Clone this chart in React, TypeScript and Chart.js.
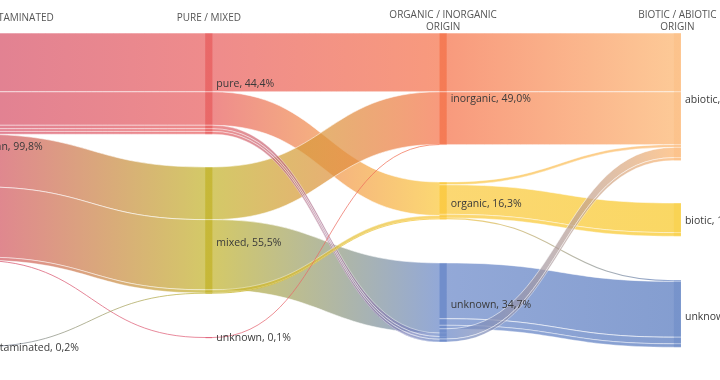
import React, { useEffect, useRef } from "react";
import { Chart, registerables } from "chart.js";
Chart.register(...registerables);

// ---- data ----
const columnTitles: string[][] = [
  ["CONTAMINATED / UNCONTAMINATED"],
  ["PURE / MIXED"],
  ["ORGANIC / INORGANIC", "ORIGIN"],
  ["BIOTIC / ABIOTIC", "ORIGIN"],
];
const nodeNames = ["clean", "contaminated", "pure", "mixed", "unknown", "inorganic", "organic", "unknown", "abiotic", "biotic", "unknown"];
const nodeColumns = [0, 0, 1, 1, 1, 2, 2, 2, 3, 3, 3];
const nodeValues = [99.8, 0.2, 44.4, 55.5, 0.1, 49.0, 16.3, 34.7, 56.0, 14.6, 29.4];

const linkSources = [0, 0, 0, 0, 0, 0, 0, 0, 0, 1,
  2, 2, 3, 3, 2, 2, 2, 3, 3, 4,
  5, 5, 6, 6, 6, 6, 7, 7, 7, 7, 7];
const linkTargets = [2, 2, 2, 2, 2, 3, 3, 3, 4, 3,
  5, 6, 5, 7, 7, 7, 7, 6, 6, 5,
  8, 8, 8, 9, 9, 10, 10, 10, 10, 8, 8];
const linkValues = [25.8, 14.7, 1.5, 1.2, 1.2, 23.1, 30.8, 1.4, 0.1, 0.2,
  25.8, 14.7, 23.1, 30.8, 1.5, 1.2, 1.2, 1.4, 0.2, 0.1,
  25.8, 23.2, 1.2, 13.0, 1.6, 0.5, 24.5, 2.9, 1.5, 4.5, 1.3];

// ---- layout / style ----
const NODE_TOP = [0, 137.6, 0, 58.8, 133.6, 0, 65.4, 100.9, 0, 74.6, 108.5];
const LABEL_DY = [0, 1, 0, 13, 0, 10, 3, 3, 3, 1, 3];
const TITLE_DX = [-10, 0, 0, 0];
const NODE_COLORS = [
  [213, 80, 105], [110, 125, 170], [232, 95, 95], [195, 180, 45], [225, 95, 120],
  [245, 115, 75], [250, 200, 60], [105, 135, 200], [252, 180, 110], [248, 200, 40], [85, 120, 190],
];
const LINK_ALPHA = 0.72;
const NODE_W = 0.03;
const X_MIN = 0.1238;
const X_MAX = 3.1967;

const rgba = (c: number[], a: number) => `rgba(${c[0]},${c[1]},${c[2]},${a})`;
const fmt = (v: number) => v.toFixed(1).replace(".", ",") + "%";

const sankeyPlugin = {
  id: "sankeyDraw",
  afterDraw(chart: any) {
    const ctx: CanvasRenderingContext2D = chart.ctx;
    const xs = chart.scales.x;
    const ys = chart.scales.y;
    const xp = (v: number) => xs.getPixelForValue(v);
    const yp = (v: number) => ys.getPixelForValue(v);
    const outOff = nodeValues.map(() => 0);
    const inOff = nodeValues.map(() => 0);
    ctx.save();
    for (let i = 0; i < linkValues.length; i++) {
      const s = linkSources[i], t = linkTargets[i], v = linkValues[i];
      const sy0 = NODE_TOP[s] + outOff[s];
      const ty0 = NODE_TOP[t] + inOff[t];
      outOff[s] += v;
      inOff[t] += v;
      const sc = nodeColumns[s], tc = nodeColumns[t];
      const x0 = xp(sc), x1 = xp(sc + NODE_W), x2 = xp(tc), x3 = xp(tc + NODE_W);
      const xm = (x1 + x2) / 2;
      const sTop = yp(sy0), sBot = yp(sy0 + v), tTop = yp(ty0), tBot = yp(ty0 + v);
      const th = sBot - sTop;
      const g = ctx.createLinearGradient(x1, 0, x2, 0);
      g.addColorStop(0, rgba(NODE_COLORS[s], LINK_ALPHA));
      g.addColorStop(1, rgba(NODE_COLORS[t], LINK_ALPHA));
      if (th < 1.2) {
        const sm = (sTop + sBot) / 2, tm = (tTop + tBot) / 2;
        ctx.beginPath();
        ctx.moveTo(x0, sm);
        ctx.lineTo(x1, sm);
        ctx.bezierCurveTo(xm, sm, xm, tm, x2, tm);
        ctx.lineTo(x3, tm);
        ctx.strokeStyle = g;
        ctx.lineWidth = Math.max(th, 1);
        ctx.stroke();
        continue;
      }
      ctx.beginPath();
      ctx.moveTo(x0, sTop);
      ctx.lineTo(x1, sTop);
      ctx.bezierCurveTo(xm, sTop, xm, tTop, x2, tTop);
      ctx.lineTo(x3, tTop);
      ctx.lineTo(x3, tBot);
      ctx.lineTo(x2, tBot);
      ctx.bezierCurveTo(xm, tBot, xm, sBot, x1, sBot);
      ctx.lineTo(x0, sBot);
      ctx.closePath();
      ctx.fillStyle = g;
      ctx.fill();
      if (th >= 2) {
        ctx.strokeStyle = "rgba(255,255,255,0.8)";
        ctx.lineWidth = th < 5 ? 0.5 : 0.7;
        ctx.beginPath();
        ctx.moveTo(x0, sTop);
        ctx.lineTo(x1, sTop);
        ctx.bezierCurveTo(xm, sTop, xm, tTop, x2, tTop);
        ctx.lineTo(x3, tTop);
        ctx.moveTo(x0, sBot);
        ctx.lineTo(x1, sBot);
        ctx.bezierCurveTo(xm, sBot, xm, tBot, x2, tBot);
        ctx.lineTo(x3, tBot);
        ctx.stroke();
      }
    }
    // nodes
    for (let n = 0; n < nodeValues.length; n++) {
      const c = nodeColumns[n];
      const xa = xp(c), xb = xp(c + NODE_W);
      const ya = yp(NODE_TOP[n]), yb = yp(NODE_TOP[n] + nodeValues[n]);
      ctx.fillStyle = rgba(NODE_COLORS[n], 0.25);
      ctx.fillRect(xa, ya, xb - xa, Math.max(yb - ya, 1));
    }
    // labels
    ctx.font = '10.5px "Open Sans"';
    ctx.fillStyle = "#3a3a3a";
    ctx.textBaseline = "middle";
    ctx.textAlign = "left";
    for (let n = 0; n < nodeValues.length; n++) {
      const c = nodeColumns[n];
      const yc = (yp(NODE_TOP[n]) + yp(NODE_TOP[n] + nodeValues[n])) / 2 + LABEL_DY[n];
      ctx.fillText(`${nodeNames[n]}, ${fmt(nodeValues[n])}`, xp(c + NODE_W) + 4, yc);
    }
    // titles
    ctx.font = '10px "Open Sans"';
    ctx.fillStyle = "#555";
    ctx.textAlign = "center";
    for (let c = 0; c < columnTitles.length; c++) {
      const lines = columnTitles[c];
      const xc = xp(c + NODE_W / 2) + TITLE_DX[c];
      if (lines.length === 1) ctx.fillText(lines[0], xc, 18);
      else lines.forEach((l, k) => ctx.fillText(l, xc, 15 + k * 12));
    }
    ctx.restore();
  },
};

export default function App() {
  const ref = useRef<HTMLCanvasElement>(null);
  useEffect(() => {
    const chart = new Chart(ref.current as HTMLCanvasElement, {
      type: "scatter",
      data: { datasets: [{ data: [] }] },
      options: {
        animation: false,
        responsive: false,
        maintainAspectRatio: false,
        layout: { padding: { top: 33, bottom: 28, left: 0, right: 0 } },
        plugins: { legend: { display: false }, tooltip: { enabled: false } },
        scales: {
          x: { type: "linear", min: X_MIN, max: X_MAX, display: false },
          y: { type: "linear", min: 0, max: 140, reverse: true, display: false },
        },
      },
      plugins: [sankeyPlugin],
    } as any);
    return () => chart.destroy();
  }, []);
  return (
    <div style={{ position: "fixed", left: 0, top: 0, width: 720, height: 380, background: "#fff" }}>
      <canvas ref={ref} width={720} height={380} style={{ display: "block" }} />
    </div>
  );
}
